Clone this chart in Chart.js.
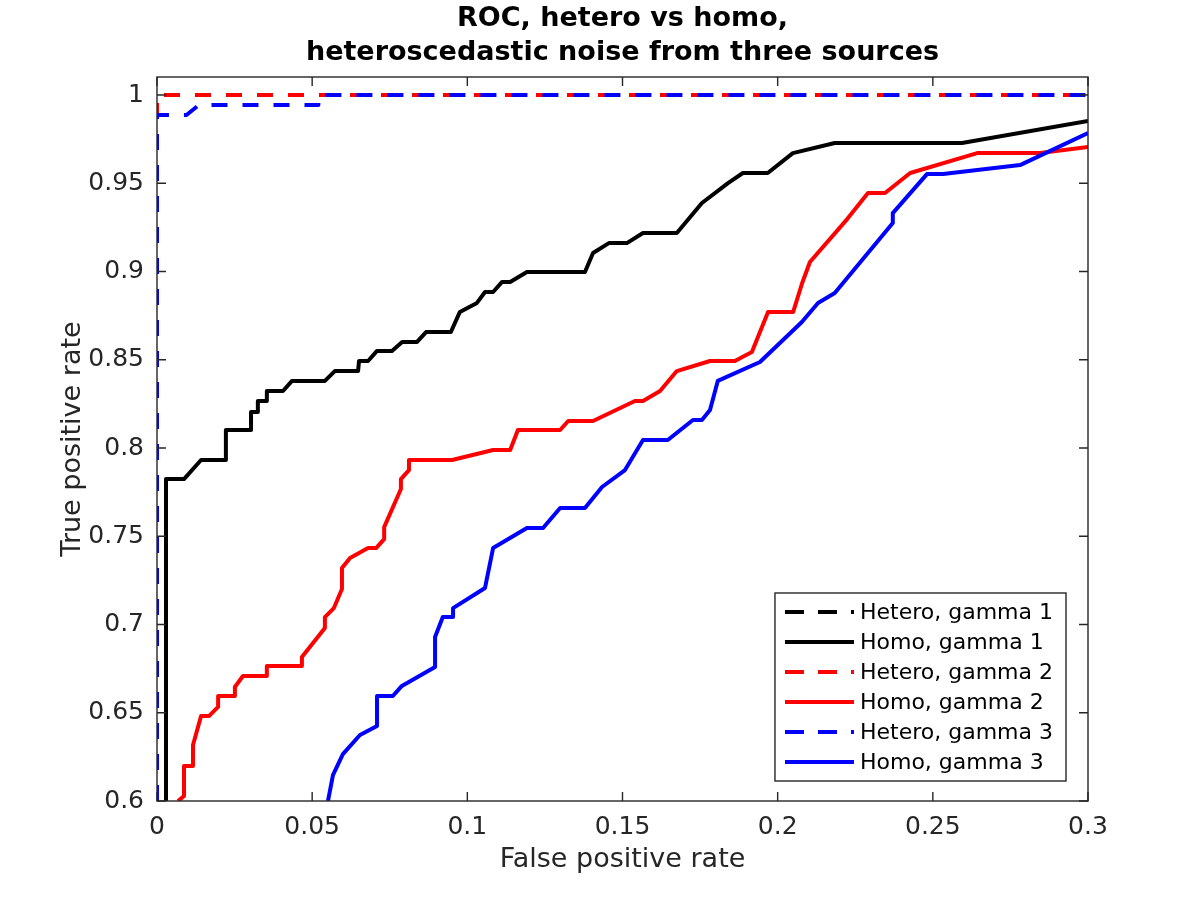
<!DOCTYPE html>
<html>
<head>
<meta charset="utf-8">
<script src="https://cdn.jsdelivr.net/npm/chart.js@4.4.1/dist/chart.umd.min.js"></script>
<style>
  html, body { margin: 0; padding: 0; background: #fff; }
</style>
</head>
<body>
<canvas id="roc" width="1200" height="900"></canvas>
<script>
// tick values
const xTicks = [0, 0.05, 0.1, 0.15, 0.2, 0.25, 0.3];
const yTicks = [0.6, 0.65, 0.7, 0.75, 0.8, 0.85, 0.9, 0.95, 1];

const seriesLabels = [
  "Hetero, gamma 1", "Homo, gamma 1",
  "Hetero, gamma 2", "Homo, gamma 2",
  "Hetero, gamma 3", "Homo, gamma 3"
];

// [false positive rate, true positive rate]
const heteroG1 = [[0, 0.6], [0, 1], [0.3, 1]];
const homoG1 = [
  [0.0029, 0.6], [0.0029, 0.7824], [0.0087, 0.7824], [0.0142, 0.7932], [0.0222, 0.7932],
  [0.0222, 0.8102], [0.0303, 0.8102], [0.0303, 0.8204], [0.0325, 0.8204], [0.0325, 0.8266],
  [0.0354, 0.8266], [0.0354, 0.8323], [0.0406, 0.8323], [0.0435, 0.838], [0.0541, 0.838],
  [0.0573, 0.8436], [0.0648, 0.8436], [0.0651, 0.8493], [0.068, 0.8493], [0.0709, 0.855],
  [0.0757, 0.855], [0.079, 0.8601], [0.0838, 0.8601], [0.0867, 0.8657], [0.0947, 0.8657],
  [0.0976, 0.8771], [0.1031, 0.8822], [0.1057, 0.8884], [0.1083, 0.8884], [0.1112, 0.8941],
  [0.1138, 0.8941], [0.1192, 0.8997], [0.1379, 0.8997], [0.1405, 0.9105], [0.1456, 0.9161],
  [0.1514, 0.9161], [0.1566, 0.9218], [0.1675, 0.9218], [0.1756, 0.9388], [0.184, 0.9501],
  [0.1888, 0.9558], [0.1968, 0.9558], [0.2049, 0.9671], [0.2184, 0.9728], [0.2594, 0.9728],
  [0.3, 0.9853]
];
const heteroG2 = [[0, 0.6], [0, 1], [0.3, 1]];
const homoG2 = [
  [0.0068, 0.6], [0.0087, 0.6028], [0.0087, 0.6198], [0.0116, 0.6198], [0.0116, 0.6317],
  [0.0142, 0.6482], [0.0168, 0.6482], [0.0197, 0.6533], [0.0197, 0.6595], [0.0251, 0.6595],
  [0.0251, 0.6646], [0.0277, 0.6708], [0.0354, 0.6708], [0.0354, 0.6765], [0.0467, 0.6765],
  [0.0467, 0.6816], [0.0541, 0.698], [0.0541, 0.7042], [0.057, 0.7093], [0.0596, 0.7201],
  [0.0596, 0.732], [0.0622, 0.7377], [0.068, 0.7433], [0.0706, 0.7433], [0.0732, 0.7484],
  [0.0732, 0.7552], [0.0786, 0.7768], [0.0786, 0.7824], [0.0812, 0.7875], [0.0812, 0.7932],
  [0.0951, 0.7932], [0.1083, 0.7989], [0.1138, 0.7989], [0.1163, 0.8102], [0.1299, 0.8102],
  [0.1325, 0.8153], [0.1405, 0.8153], [0.154, 0.8266], [0.1566, 0.8266], [0.1621, 0.8323],
  [0.1675, 0.8436], [0.1782, 0.8493], [0.1862, 0.8493], [0.1917, 0.8544], [0.1969, 0.8771],
  [0.205, 0.8771], [0.2079, 0.8935], [0.2104, 0.9054], [0.2224, 0.9297], [0.2291, 0.9445],
  [0.2346, 0.9445], [0.2427, 0.9558], [0.2643, 0.9671], [0.2846, 0.9671], [0.3, 0.9705]
];
const heteroG3 = [
  [0, 0.6], [0, 0.9887], [0.0095, 0.9887], [0.0135, 0.9943], [0.052, 0.9943],
  [0.052, 1], [0.3, 1]
];
const homoG3 = [
  [0.0551, 0.6], [0.0567, 0.6147], [0.0599, 0.6266], [0.0654, 0.6374], [0.0709, 0.6425],
  [0.0709, 0.6595], [0.076, 0.6595], [0.0789, 0.6652], [0.0896, 0.6759], [0.0896, 0.6929],
  [0.0921, 0.7042], [0.0954, 0.7042], [0.0954, 0.7093], [0.1057, 0.7207], [0.1083, 0.7433],
  [0.1192, 0.7547], [0.1244, 0.7547], [0.1299, 0.766], [0.1379, 0.766], [0.1434, 0.7779],
  [0.1508, 0.7875], [0.1566, 0.8045], [0.1646, 0.8045], [0.1727, 0.8159], [0.1756, 0.8159],
  [0.1782, 0.8215], [0.1807, 0.838], [0.1943, 0.8487], [0.2078, 0.8714], [0.213, 0.8822],
  [0.2184, 0.8878], [0.2371, 0.9275], [0.2371, 0.9331], [0.2481, 0.9552], [0.2533, 0.9552],
  [0.2781, 0.9603], [0.3, 0.9785]
];

const seriesData = [heteroG1, homoG1, heteroG2, homoG2, heteroG3, homoG3];
const seriesColors = ["#000000", "#000000", "#ff0000", "#ff0000", "#0000ff", "#0000ff"];
const DASH = [16, 15];
const AXIS_COLOR = "#262626";
const FONT = "'DejaVu Sans', sans-serif";

const fmt = (v) => String(+(+v).toFixed(2));

const datasets = seriesData.map((pts, i) => ({
  label: seriesLabels[i],
  data: pts.map(([x, y]) => ({ x, y })),
  showLine: true,
  borderColor: seriesColors[i],
  backgroundColor: seriesColors[i],
  borderWidth: 4,
  borderDash: i % 2 === 0 ? DASH : [],
  borderJoinStyle: "round",
  pointRadius: 0,
  fill: false,
  tension: 0,
  // later series on top, like matlab
  order: seriesData.length - i,
}));

// matlab style box, inward ticks and legend
const matlabAxes = {
  id: "matlabAxes",
  afterLayout(chart) {
    // center the title over the plot box, not the whole canvas
    const t = chart.titleBlock;
    if (t) {
      t.left = chart.chartArea.left;
      t.right = chart.chartArea.right;
      t.width = t.right - t.left;
    }
  },
  afterDatasetsDraw(chart) {
    const { ctx, chartArea: a, scales } = chart;
    const tl = 9;
    ctx.save();
    ctx.strokeStyle = AXIS_COLOR;
    ctx.lineWidth = 1.4;
    ctx.strokeRect(a.left, a.top, a.right - a.left, a.bottom - a.top);
    ctx.beginPath();
    xTicks.forEach((v) => {
      const px = scales.x.getPixelForValue(v);
      ctx.moveTo(px, a.bottom); ctx.lineTo(px, a.bottom - tl);
      ctx.moveTo(px, a.top); ctx.lineTo(px, a.top + tl);
    });
    yTicks.forEach((v) => {
      const py = scales.y.getPixelForValue(v);
      ctx.moveTo(a.left, py); ctx.lineTo(a.left + tl, py);
      ctx.moveTo(a.right, py); ctx.lineTo(a.right - tl, py);
    });
    ctx.stroke();
    ctx.restore();
  },
  afterDraw(chart) {
    const { ctx, chartArea: a } = chart;
    const ds = chart.data.datasets;
    ctx.save();
    ctx.font = "22px " + FONT;
    const maxW = Math.max(...ds.map((d) => ctx.measureText(d.label).width));
    const rowH = 30;
    const w = 86 + maxW + 12;
    const h = rowH * ds.length + 8;
    const left = a.right - 22 - w;
    const top = a.bottom - 20 - h;
    ctx.fillStyle = "#fff";
    ctx.fillRect(left, top, w, h);
    ctx.strokeStyle = AXIS_COLOR;
    ctx.lineWidth = 1.4;
    ctx.strokeRect(left, top, w, h);
    ds.forEach((d, i) => {
      const cy = top + 19 + i * rowH;
      ctx.beginPath();
      ctx.strokeStyle = d.borderColor;
      ctx.lineWidth = 4;
      ctx.setLineDash(d.borderDash.length ? [19, 14] : []);
      ctx.moveTo(left + 10, cy);
      ctx.lineTo(left + 79, cy);
      ctx.stroke();
      ctx.setLineDash([]);
      ctx.fillStyle = "#000";
      ctx.textAlign = "left";
      ctx.textBaseline = "middle";
      ctx.fillText(d.label, left + 85, cy + 1);
    });
    ctx.restore();
  },
};

new Chart(document.getElementById("roc"), {
  type: "scatter",
  data: { datasets },
  options: {
    responsive: false,
    animation: false,
    devicePixelRatio: 1,
    layout: { padding: { left: 0, right: 112, top: 0, bottom: 0 } },
    plugins: {
      legend: { display: false },
      tooltip: { enabled: false },
      title: {
        display: true,
        text: ["ROC, hetero vs homo,", "heteroscedastic noise from three sources"],
        color: "#000",
        font: { family: FONT, size: 27, weight: "bold", lineHeight: 1.25 },
        padding: { top: 2, bottom: 7.5 },
      },
    },
    scales: {
      x: {
        type: "linear",
        min: 0,
        max: 0.3,
        afterBuildTicks: (s) => { s.ticks = xTicks.map((v) => ({ value: v })); },
        afterFit: (s) => { s.height = 99; },
        grid: { display: false, drawTicks: false },
        border: { display: false },
        ticks: { padding: 11, color: AXIS_COLOR, font: { family: FONT, size: 25 }, callback: fmt, maxRotation: 0, autoSkip: false },
        title: {
          display: true,
          text: "False positive rate",
          color: AXIS_COLOR,
          font: { family: FONT, size: 27, lineHeight: 1.2 },
          padding: { top: 0, bottom: 24 },
        },
      },
      y: {
        type: "linear",
        min: 0.6,
        max: 1.0102,
        afterBuildTicks: (s) => { s.ticks = yTicks.map((v) => ({ value: v })); },
        afterFit: (s) => { s.width = 157; },
        grid: { display: false, drawTicks: false },
        border: { display: false },
        ticks: { padding: 13, color: AXIS_COLOR, font: { family: FONT, size: 25 }, callback: fmt, autoSkip: false },
        title: {
          display: true,
          text: "True positive rate",
          color: AXIS_COLOR,
          font: { family: FONT, size: 27, lineHeight: 1.2 },
          padding: { top: 57, bottom: 0 },
        },
      },
    },
  },
  plugins: [matlabAxes],
});
</script>
</body>
</html>
